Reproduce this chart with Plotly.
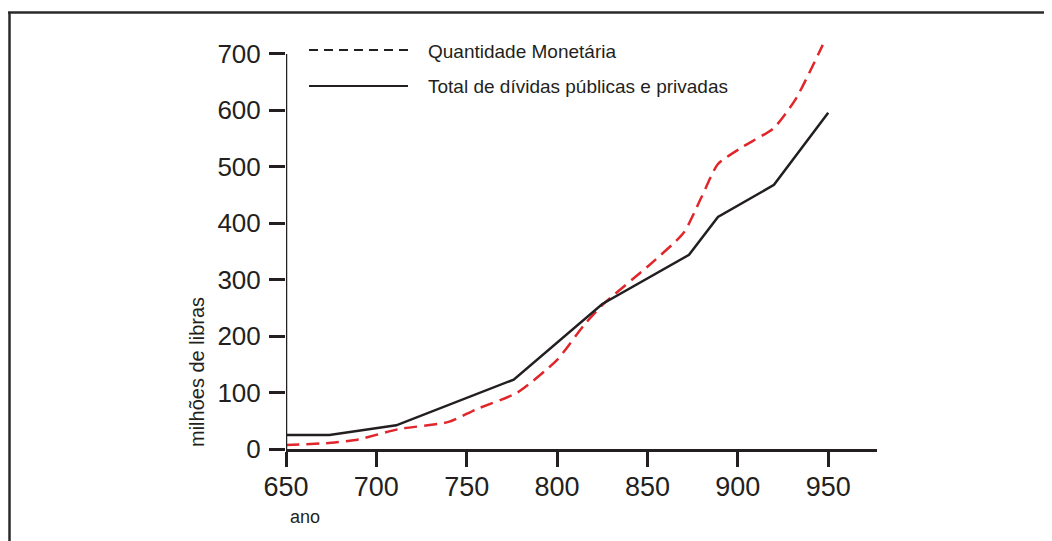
import plotly.graph_objects as go

# Data
years_money = [650, 675, 690, 712, 740, 755, 778, 800, 815, 826, 850, 870, 880, 889, 903, 920, 932, 947]
money = [7, 11, 17, 35, 48, 70, 100, 158, 220, 258, 323, 383, 447, 505, 536, 569, 620, 716]

years_debt = [650, 674, 711, 776, 825, 873, 889, 920, 950]
debt = [25, 25, 42, 123, 257, 344, 411, 468, 596]

x_ticks = [650, 700, 750, 800, 850, 900, 950]
y_ticks = [0, 100, 200, 300, 400, 500, 600, 700]

legend_labels = ["Quantidade Monetária", "Total de dívidas públicas e privadas"]

RED = "#e0262b"
BLACK = "#231f20"
FONT = "Liberation Sans"

fig = go.Figure()
fig.add_trace(go.Scatter(
    x=years_money, y=money, mode="lines", name=legend_labels[0],
    line=dict(color=RED, width=2.5, dash="13px,7px", shape="spline", smoothing=0.6),
    showlegend=False,
))
fig.add_trace(go.Scatter(
    x=years_debt, y=debt, mode="lines", name=legend_labels[1],
    line=dict(color=BLACK, width=2.5),
    showlegend=False,
))

OFF = 8  # page body margin
W, H = 1052 - OFF, 541 - OFF
L = 286 - OFF
T = 37 - OFF
B = H - (449 - OFF)
R = W - (877 - OFF)
pw, ph = W - L - R, H - T - B

def px(xp):  # reference pixel x -> paper
    return (xp - OFF - L) / pw

def py(yp):  # reference pixel y -> paper
    return (H - B - (yp - OFF)) / ph

shapes = []
# y axis line up to 700
shapes.append(dict(type="line", xref="x", yref="y", x0=650, x1=650, y0=0, y1=700,
                   line=dict(color=BLACK, width=2.5)))
# frame (top and left)
shapes.append(dict(type="line", xref="paper", yref="paper", x0=px(8), x1=px(1070), y0=py(12.5), y1=py(12.5),
                   line=dict(color="#2a2a2a", width=2.5)))
shapes.append(dict(type="line", xref="paper", yref="paper", x0=px(9.5), x1=px(9.5), y0=py(12), y1=py(560),
                   line=dict(color="#2a2a2a", width=2.5)))
# manual legend samples
shapes.append(dict(type="line", xref="paper", yref="paper", x0=px(309), x1=px(408), y0=py(50), y1=py(50),
                   line=dict(color=BLACK, width=2, dash="9px,6px")))
shapes.append(dict(type="line", xref="paper", yref="paper", x0=px(309), x1=px(408), y0=py(86), y1=py(86),
                   line=dict(color=BLACK, width=2)))

annotations = [
    dict(text=legend_labels[0], xref="paper", yref="paper", x=px(426), y=py(52),
         xanchor="left", yanchor="middle", showarrow=False,
         font=dict(family=FONT, size=19, color=BLACK)),
    dict(text=legend_labels[1], xref="paper", yref="paper", x=px(426), y=py(87),
         xanchor="left", yanchor="middle", showarrow=False,
         font=dict(family=FONT, size=19, color=BLACK)),
    dict(text="milhões de libras", xref="paper", yref="paper", x=px(197), y=py(372),
         xanchor="center", yanchor="middle", showarrow=False, textangle=-90,
         font=dict(family=FONT, size=20, color=BLACK)),
    dict(text="ano", xref="paper", yref="paper", x=px(305), y=py(517),
         xanchor="center", yanchor="middle", showarrow=False,
         font=dict(family=FONT, size=18, color=BLACK)),
]

fig.update_layout(
    width=W, height=H,
    margin=dict(l=L, r=R, t=T, b=B, pad=0),
    paper_bgcolor="white", plot_bgcolor="white",
    shapes=shapes, annotations=annotations,
    xaxis=dict(range=[650, 977], tickvals=x_ticks, ticks="outside", ticklen=15, tickwidth=2.5,
               tickcolor=BLACK, showline=True, linecolor=BLACK, linewidth=2.5, showgrid=False,
               zeroline=False, tickfont=dict(family=FONT, size=27, color=BLACK),
               ticklabelstandoff=-3),
    yaxis=dict(range=[0, 730], tickvals=y_ticks, ticks="outside", ticklen=16, tickwidth=2.5,
               tickcolor=BLACK, showline=False, showgrid=False, zeroline=False,
               tickfont=dict(family=FONT, size=26, color=BLACK), ticklabelstandoff=3),
)

fig.write_html("out.html")
